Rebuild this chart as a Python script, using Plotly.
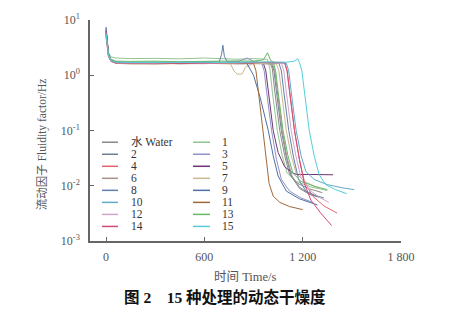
import plotly.graph_objects as go

names = ["水 Water", "1", "2", "3", "4", "5", "6", "7", "8", "9", "10", "11", "12", "13", "14", "15"]
colors = ["#8a8a8a", "#93c493", "#6f7e92", "#9290c6", "#e0666a", "#6c3472", "#a8908a", "#cdb892",
          "#5f7fae", "#4f6fa6", "#62aac8", "#a0683a", "#d2a6c8", "#66b866", "#d24a78", "#52cfd8"]

t_water = [0, 6, 15, 30, 60, 150, 300, 450, 600, 700, 800, 900, 1000, 1015, 1030, 1060, 1090, 1120, 1170, 1240, 1320]
v_water = [6.8, 4.0, 2.4, 1.9, 1.75, 1.7, 1.72, 1.68, 1.74, 1.7, 1.72, 1.7, 1.68, 1.3, 0.5, 0.1, 0.035, 0.016, 0.011, 0.0088, 0.0075]

t_1 = [0, 6, 15, 30, 60, 150, 300, 450, 600, 700, 800, 900, 985, 1000, 1015, 1045, 1075, 1105, 1160, 1250, 1350]
v_1 = [5.6, 3.6, 2.6, 2.15, 2.05, 2.0, 2.02, 1.98, 2.05, 2.0, 1.95, 2.0, 1.95, 1.3, 0.5, 0.1, 0.035, 0.017, 0.012, 0.0095, 0.0082]

t_2 = [0, 6, 15, 30, 60, 150, 300, 450, 600, 700, 800, 900, 1010, 1025, 1040, 1070, 1100, 1130, 1180, 1240, 1300]
v_2 = [7.2, 4.2, 2.3, 1.8, 1.66, 1.64, 1.66, 1.62, 1.65, 1.66, 1.63, 1.65, 1.62, 1.2, 0.5, 0.1, 0.033, 0.015, 0.009, 0.007, 0.0062]

t_3 = [0, 6, 15, 30, 60, 150, 300, 450, 600, 700, 800, 860, 900, 950, 965, 980, 1010, 1040, 1070, 1120, 1190, 1260]
v_3 = [6.0, 3.8, 2.3, 1.85, 1.7, 1.68, 1.7, 1.66, 1.7, 1.72, 1.75, 2.05, 1.8, 1.65, 1.2, 0.5, 0.1, 0.03, 0.013, 0.008, 0.006, 0.005]

t_4 = [0, 6, 15, 30, 60, 150, 300, 450, 600, 700, 800, 900, 1000, 1090, 1105, 1120, 1150, 1180, 1210, 1260, 1330, 1410]
v_4 = [5.2, 3.3, 2.2, 1.8, 1.68, 1.66, 1.62, 1.66, 1.7, 1.64, 1.68, 1.72, 1.66, 1.66, 1.2, 0.5, 0.1, 0.03, 0.012, 0.0065, 0.0043, 0.0032]

t_5 = [0, 6, 15, 30, 60, 150, 300, 450, 600, 700, 800, 900, 960, 975, 990, 1020, 1050, 1090, 1140, 1165, 1250, 1385]
v_5 = [6.5, 4.0, 2.4, 1.85, 1.7, 1.66, 1.68, 1.7, 1.66, 1.7, 1.72, 1.68, 1.65, 1.2, 0.5, 0.1, 0.04, 0.022, 0.017, 0.016, 0.016, 0.0158]

t_6 = [0, 6, 15, 30, 60, 150, 300, 450, 600, 700, 800, 900, 1015, 1030, 1045, 1075, 1105, 1135, 1180, 1230, 1280]
v_6 = [5.8, 3.6, 2.2, 1.8, 1.65, 1.62, 1.6, 1.64, 1.62, 1.66, 1.6, 1.62, 1.6, 1.2, 0.5, 0.1, 0.032, 0.015, 0.0095, 0.0075, 0.0066]

t_7 = [0, 6, 15, 30, 60, 150, 300, 450, 600, 700, 760, 780, 800, 830, 850, 900, 1040, 1055, 1070, 1100, 1130, 1160, 1210, 1300]
v_7 = [5.0, 3.2, 2.2, 1.78, 1.64, 1.6, 1.62, 1.6, 1.64, 1.62, 1.6, 1.2, 1.05, 1.05, 1.4, 1.65, 1.6, 1.2, 0.5, 0.1, 0.035, 0.017, 0.012, 0.009]

t_8 = [0, 6, 15, 30, 60, 150, 300, 450, 600, 690, 705, 713, 722, 740, 800, 900, 1055, 1070, 1085, 1115, 1145, 1175, 1220, 1270, 1330]
v_8 = [7.5, 4.4, 2.5, 1.9, 1.72, 1.7, 1.68, 1.72, 1.7, 1.72, 2.4, 3.5, 2.2, 1.75, 1.7, 1.72, 1.66, 1.2, 0.5, 0.1, 0.032, 0.013, 0.008, 0.0068, 0.006]

t_9 = [0, 6, 15, 30, 60, 150, 300, 450, 600, 700, 800, 860, 900, 940, 990, 1020, 1050, 1100, 1180, 1290]
v_9 = [6.2, 3.9, 2.3, 1.82, 1.68, 1.66, 1.68, 1.7, 1.66, 1.68, 1.7, 1.62, 1.0, 0.4, 0.1, 0.035, 0.015, 0.008, 0.0058, 0.0045]

t_10 = [0, 6, 15, 30, 60, 150, 300, 450, 600, 700, 800, 900, 1000, 1100, 1115, 1130, 1160, 1190, 1220, 1270, 1350, 1440, 1515]
v_10 = [5.4, 3.5, 2.3, 1.85, 1.72, 1.7, 1.72, 1.7, 1.74, 1.7, 1.72, 1.7, 1.72, 1.66, 1.2, 0.5, 0.1, 0.035, 0.018, 0.013, 0.0105, 0.0092, 0.0085]

t_11 = [0, 6, 15, 30, 60, 150, 300, 450, 600, 700, 800, 900, 915, 930, 955, 975, 995, 1020, 1060, 1120, 1200]
v_11 = [6.0, 3.7, 2.3, 1.8, 1.66, 1.64, 1.66, 1.62, 1.66, 1.64, 1.66, 1.64, 1.2, 0.5, 0.1, 0.03, 0.011, 0.0065, 0.005, 0.0042, 0.0037]

t_12 = [0, 6, 15, 30, 60, 150, 300, 450, 600, 700, 800, 900, 1000, 1070, 1085, 1100, 1130, 1160, 1190, 1240, 1300, 1360]
v_12 = [5.0, 3.2, 2.1, 1.78, 1.66, 1.64, 1.66, 1.68, 1.64, 1.66, 1.68, 1.72, 1.7, 1.66, 1.2, 0.5, 0.1, 0.033, 0.014, 0.0085, 0.0062, 0.005]

t_13 = [0, 6, 15, 30, 60, 150, 300, 450, 600, 700, 800, 900, 960, 985, 1005, 1020, 1035, 1050, 1080, 1110, 1140, 1190, 1270, 1350]
v_13 = [5.6, 3.6, 2.4, 1.95, 1.8, 1.78, 1.8, 1.76, 1.8, 1.78, 1.82, 1.8, 1.9, 2.55, 1.85, 1.75, 1.2, 0.5, 0.1, 0.035, 0.017, 0.012, 0.0098, 0.0085]

t_14 = [0, 6, 15, 30, 60, 150, 300, 450, 600, 700, 800, 900, 1000, 1090, 1105, 1120, 1150, 1180, 1210, 1250, 1310, 1377]
v_14 = [6.4, 3.9, 2.3, 1.82, 1.68, 1.66, 1.68, 1.64, 1.68, 1.66, 1.7, 1.68, 1.72, 1.7, 1.2, 0.5, 0.1, 0.03, 0.011, 0.0055, 0.0032, 0.0019]

t_15 = [0, 6, 15, 30, 60, 150, 300, 450, 600, 700, 800, 900, 1000, 1100, 1150, 1170, 1180, 1195, 1210, 1240, 1270, 1300, 1340, 1400, 1468]
v_15 = [5.8, 3.6, 2.3, 1.85, 1.72, 1.7, 1.72, 1.7, 1.72, 1.7, 1.72, 1.7, 1.74, 1.72, 1.8, 2.0, 1.7, 1.2, 0.5, 0.1, 0.035, 0.016, 0.0105, 0.0085, 0.0072]

series_t = [t_water, t_1, t_2, t_3, t_4, t_5, t_6, t_7, t_8, t_9, t_10, t_11, t_12, t_13, t_14, t_15]
series_v = [v_water, v_1, v_2, v_3, v_4, v_5, v_6, v_7, v_8, v_9, v_10, v_11, v_12, v_13, v_14, v_15]

x_tickvals = [0, 600, 1200, 1800]
x_ticktext = ["0", "600", "1 200", "1 800"]
y_tickvals = [0.001, 0.01, 0.1, 1, 10]
y_ticktext = ["10<sup>-3</sup>", "10<sup>-2</sup>", "10<sup>-1</sup>", "10<sup>0</sup>", "10<sup>1</sup>"]

serif = "'Liberation Serif', 'Times New Roman', 'Noto Sans CJK SC', serif"

fig = go.Figure()
for name, c, t, v in zip(names, colors, series_t, series_v):
    fig.add_trace(go.Scatter(x=t, y=v, mode="lines", name=name,
                             line=dict(color=c, width=1), showlegend=False))

W, H = 451, 314
L, R, T, B = 90, 50, 15, 73
pw, ph = W - L - R, H - T - B

def px(xp):
    return (xp - L) / pw

def py(yp):
    return (H - B - yp) / ph

# manual legend (two columns, 12.3 px row pitch)
shapes = []
annotations = []
for i, (name, c) in enumerate(zip(names, colors)):
    col = i % 2
    row = i // 2
    yp = 140 + 12.3 * row
    x0, x1, xt = (102, 118, 130) if col == 0 else (193, 210, 221)
    shapes.append(dict(type="line", xref="paper", yref="paper",
                       x0=px(x0), x1=px(x1), y0=py(yp), y1=py(yp),
                       line=dict(color=c, width=1.5)))
    annotations.append(dict(text=name, xref="paper", yref="paper", x=px(xt), y=py(yp),
                            xanchor="left", yanchor="middle", showarrow=False,
                            height=12, borderpad=0,
                            font=dict(family=serif, size=11.5, color="#333333")))

annotations.append(dict(text="时间 Time/s", xref="paper", yref="paper",
                        x=px(245), y=py(278), xanchor="center", yanchor="middle", showarrow=False,
                        font=dict(family=serif, size=12.5, color="#555555")))
annotations.append(dict(text="流动因子 Fluidity factor/Hz", xref="paper", yref="paper",
                        x=px(42), y=py(142), xanchor="center", yanchor="middle", showarrow=False,
                        textangle=-90,
                        font=dict(family=serif, size=11.5, color="#555555")))
annotations.append(dict(text="<b>图 2　15 种处理的动态干燥度</b>", xref="paper", yref="paper",
                        x=px(225), y=py(298), xanchor="center", yanchor="middle", showarrow=False,
                        font=dict(family=serif, size=15.5, color="#111111")))

fig.update_layout(
    width=W, height=H,
    margin=dict(l=L, r=R, t=T, b=B),
    paper_bgcolor="white", plot_bgcolor="white",
    shapes=shapes, annotations=annotations,
    font=dict(family=serif, color="#555555"),
)
fig.update_xaxes(range=[-98, 1800], tickvals=x_tickvals, ticktext=x_ticktext,
                 showgrid=False, zeroline=False, showline=True, linecolor="#666666", linewidth=1.5,
                 ticks="inside", ticklen=4, tickcolor="#666666", ticklabelstandoff=4,
                 tickfont=dict(family=serif, size=12, color="#555555"))
fig.update_yaxes(type="log", range=[-3, 1], tickvals=y_tickvals, ticktext=y_ticktext,
                 showgrid=False, zeroline=False, showline=True, linecolor="#666666", linewidth=1.5,
                 ticks="inside", ticklen=4, tickcolor="#666666", ticklabelstandoff=6,
                 tickfont=dict(family=serif, size=12, color="#555555"))

fig.write_html("out.html")
